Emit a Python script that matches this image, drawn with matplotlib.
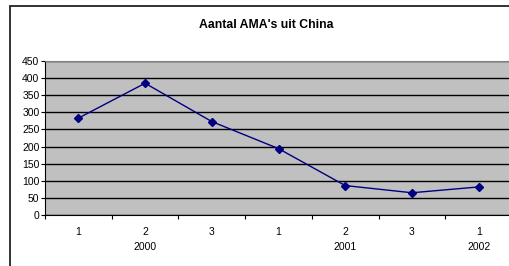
import matplotlib.pyplot as plt
import matplotlib.transforms as mtransforms
from matplotlib.patches import Rectangle

# data
quarters = ["1", "2", "3", "1", "2", "3", "1"]
years = ["2000", "2000", "2000", "2001", "2001", "2001", "2002"]
ama_counts = [283, 385, 273, 194, 86, 65, 82]

plt.rcParams["font.family"] = ["Liberation Sans", "DejaVu Sans"]

fig = plt.figure(figsize=(5.09, 2.66), dpi=100)

# outer chart frame (cut off at right and bottom like the original)
fig.patches.append(Rectangle((10 / 509, -0.1), 1.2, 1 - 6 / 266 + 0.1,
                             transform=fig.transFigure, fill=False,
                             edgecolor="#222222", lw=1.3, clip_on=False))

ax = fig.add_axes([45 / 509, 51 / 266, 467 / 509, 154 / 266])
ax.set_facecolor("#C0C0C0")

x = list(range(len(ama_counts)))
ax.plot(x, ama_counts, color="#000080", lw=1, marker="D", markersize=4.5)

ax.set_xlim(-0.5, len(ama_counts) - 0.5)
ax.set_ylim(0, 450)
ax.set_yticks(range(0, 451, 50))
ax.yaxis.grid(True, color="black", lw=1)
ax.set_axisbelow(True)

ax.set_xticks([i - 0.5 for i in range(len(ama_counts) + 1)])
ax.set_xticklabels([])
ax.tick_params(axis="x", direction="out", length=3, width=0.8)
ax.tick_params(axis="y", direction="out", length=3, width=0.8, labelsize=7.5, pad=1)

for side in ["top", "right"]:
    ax.spines[side].set_color("#808080")
ax.spines["left"].set_color("black")
ax.spines["bottom"].set_color("black")

# two-level category labels
trans = mtransforms.blended_transform_factory(ax.transData, fig.transFigure)
for i, q in enumerate(quarters):
    ax.text(i, 1 - 232 / 266, q, transform=trans, ha="center", va="center", fontsize=7.5)
groups = {}
for i, y in enumerate(years):
    groups.setdefault(y, []).append(i)
for y, idx in groups.items():
    ax.text(sum(idx) / len(idx), 1 - 247 / 266, y, transform=trans,
            ha="center", va="center", fontsize=7.5)

fig.text(266 / 509, 1 - 25 / 266, "Aantal AMA's uit China", ha="center", va="center",
         fontsize=8.8, fontweight="bold")

fig.savefig("out.png", dpi=100)
